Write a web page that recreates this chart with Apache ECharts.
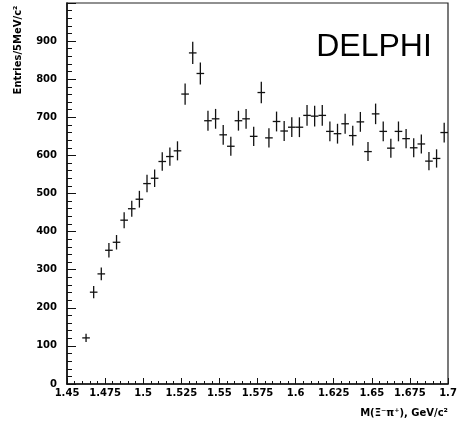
<!DOCTYPE html>
<html>
<head>
<meta charset="utf-8">
<script src="https://cdn.jsdelivr.net/npm/echarts@6/dist/echarts.min.js"></script>
<style>
  html, body { margin: 0; padding: 0; background: #fff; }
  #chart { width: 465px; height: 425px; }
</style>
</head>
<body>
<div id="chart"></div>
<script>
// Bin centres of the M(Xi- pi+) histogram, GeV/c^2 (5 MeV bins)
var binCenters = [
  1.4625, 1.4675, 1.4725, 1.4775, 1.4825, 1.4875, 1.4925, 1.4975,
  1.5025, 1.5075, 1.5125, 1.5175, 1.5225, 1.5275, 1.5325, 1.5375,
  1.5425, 1.5475, 1.5525, 1.5575, 1.5625, 1.5675, 1.5725, 1.5775,
  1.5825, 1.5875, 1.5925, 1.5975, 1.6025, 1.6075, 1.6125, 1.6175,
  1.6225, 1.6275, 1.6325, 1.6375, 1.6425, 1.6475, 1.6525, 1.6575,
  1.6625, 1.6675, 1.6725, 1.6775, 1.6825, 1.6875, 1.6925, 1.6975
];
// Entries per bin
var entries = [
  121, 241, 289, 351, 372, 430, 460, 485,
  526, 540, 584, 597, 612, 761, 869, 815,
  691, 696, 654, 624, 691, 696, 650, 765,
  646, 689, 664, 674, 674, 705, 703, 705,
  663, 657, 683, 652, 688, 610, 709, 663,
  619, 663, 644, 620, 630, 585, 592, 660
];
// Statistical errors per bin
var errors = [
  11, 16, 17, 19, 19, 21, 21, 22,
  23, 23, 24, 24, 25, 28, 29, 29,
  26, 26, 26, 25, 26, 26, 25, 28,
  25, 26, 26, 26, 26, 27, 27, 27,
  26, 26, 26, 26, 26, 25, 27, 26,
  25, 26, 25, 25, 25, 24, 24, 26
];
var halfBin = 0.0025;

var xTickMin = 1.45, xTickMax = 1.7, xTickStep = 0.025;
var yTickMin = 0, yTickMax = 1000, yTickStep = 100;

var points = binCenters.map(function (x, i) {
  return [x, entries[i], errors[i]];
});

var labelFont = {
  color: '#000',
  fontFamily: 'DejaVu Sans',
  fontWeight: 'bold',
  fontSize: 10
};

var chart = echarts.init(document.getElementById('chart'), null, { renderer: 'canvas' });

chart.setOption({
  animation: false,
  backgroundColor: '#fff',
  grid: {
    left: 67, top: 3, right: 17, bottom: 41,
    show: true, borderColor: '#222', borderWidth: 1.2,
    backgroundColor: 'transparent'
  },
  xAxis: {
    type: 'value',
    min: xTickMin, max: xTickMax, interval: xTickStep,
    splitLine: { show: false },
    axisLine: { show: true, onZero: false, lineStyle: { color: '#111', width: 1.6 } },
    axisTick: { show: true, inside: true, length: 6, lineStyle: { color: '#111', width: 1 } },
    minorTick: { show: true, splitNumber: 5, length: 3, lineStyle: { color: '#111', width: 1 } },
    axisLabel: Object.assign({
      margin: 4,
      showMinLabel: true, showMaxLabel: true,
      formatter: function (v) { return String(parseFloat(v.toFixed(3))); }
    }, labelFont)
  },
  yAxis: {
    type: 'value',
    min: yTickMin, max: yTickMax, interval: yTickStep,
    splitLine: { show: false },
    axisLine: { show: true, onZero: false, lineStyle: { color: '#111', width: 1.6 } },
    axisTick: { show: true, inside: true, length: 9, lineStyle: { color: '#111', width: 1 } },
    minorTick: { show: true, splitNumber: 5, length: 5, lineStyle: { color: '#111', width: 1 } },
    axisLabel: Object.assign({
      margin: 10,
      formatter: function (v) { return v >= yTickMax ? '' : String(v); }
    }, labelFont)
  },
  series: [{
    type: 'custom',
    data: points,
    encode: { x: 0, y: 1 },
    renderItem: function (params, api) {
      var x = api.value(0), y = api.value(1), e = api.value(2);
      var top = api.coord([x, y + e]);
      var bot = api.coord([x, y - e]);
      var left = api.coord([x - halfBin, y]);
      var right = api.coord([x + halfBin, y]);
      var style = { stroke: '#111', lineWidth: 1.3 };
      return {
        type: 'group',
        children: [
          { type: 'line', shape: { x1: top[0], y1: top[1], x2: bot[0], y2: bot[1] }, style: style },
          { type: 'line', shape: { x1: left[0], y1: left[1], x2: right[0], y2: right[1] }, style: style }
        ]
      };
    }
  }],
  graphic: [
    {
      type: 'text', x: 18, y: 50, rotation: Math.PI / 2,
      style: {
        text: 'Entries/5MeV/c²', fill: '#000',
        font: 'bold 10px "DejaVu Sans"',
        align: 'center', verticalAlign: 'middle'
      }
    },
    {
      type: 'text', x: 448, y: 413,
      style: {
        text: 'M(Ξ⁻π⁺), GeV/c²', fill: '#000',
        font: 'bold 10px "DejaVu Sans"',
        align: 'right', verticalAlign: 'middle'
      }
    },
    {
      type: 'text', x: 374, y: 47,
      style: {
        text: 'DELPHI', fill: '#000',
        font: '32px "Liberation Sans"',
        align: 'center', verticalAlign: 'middle'
      }
    }
  ]
});
</script>
</body>
</html>
